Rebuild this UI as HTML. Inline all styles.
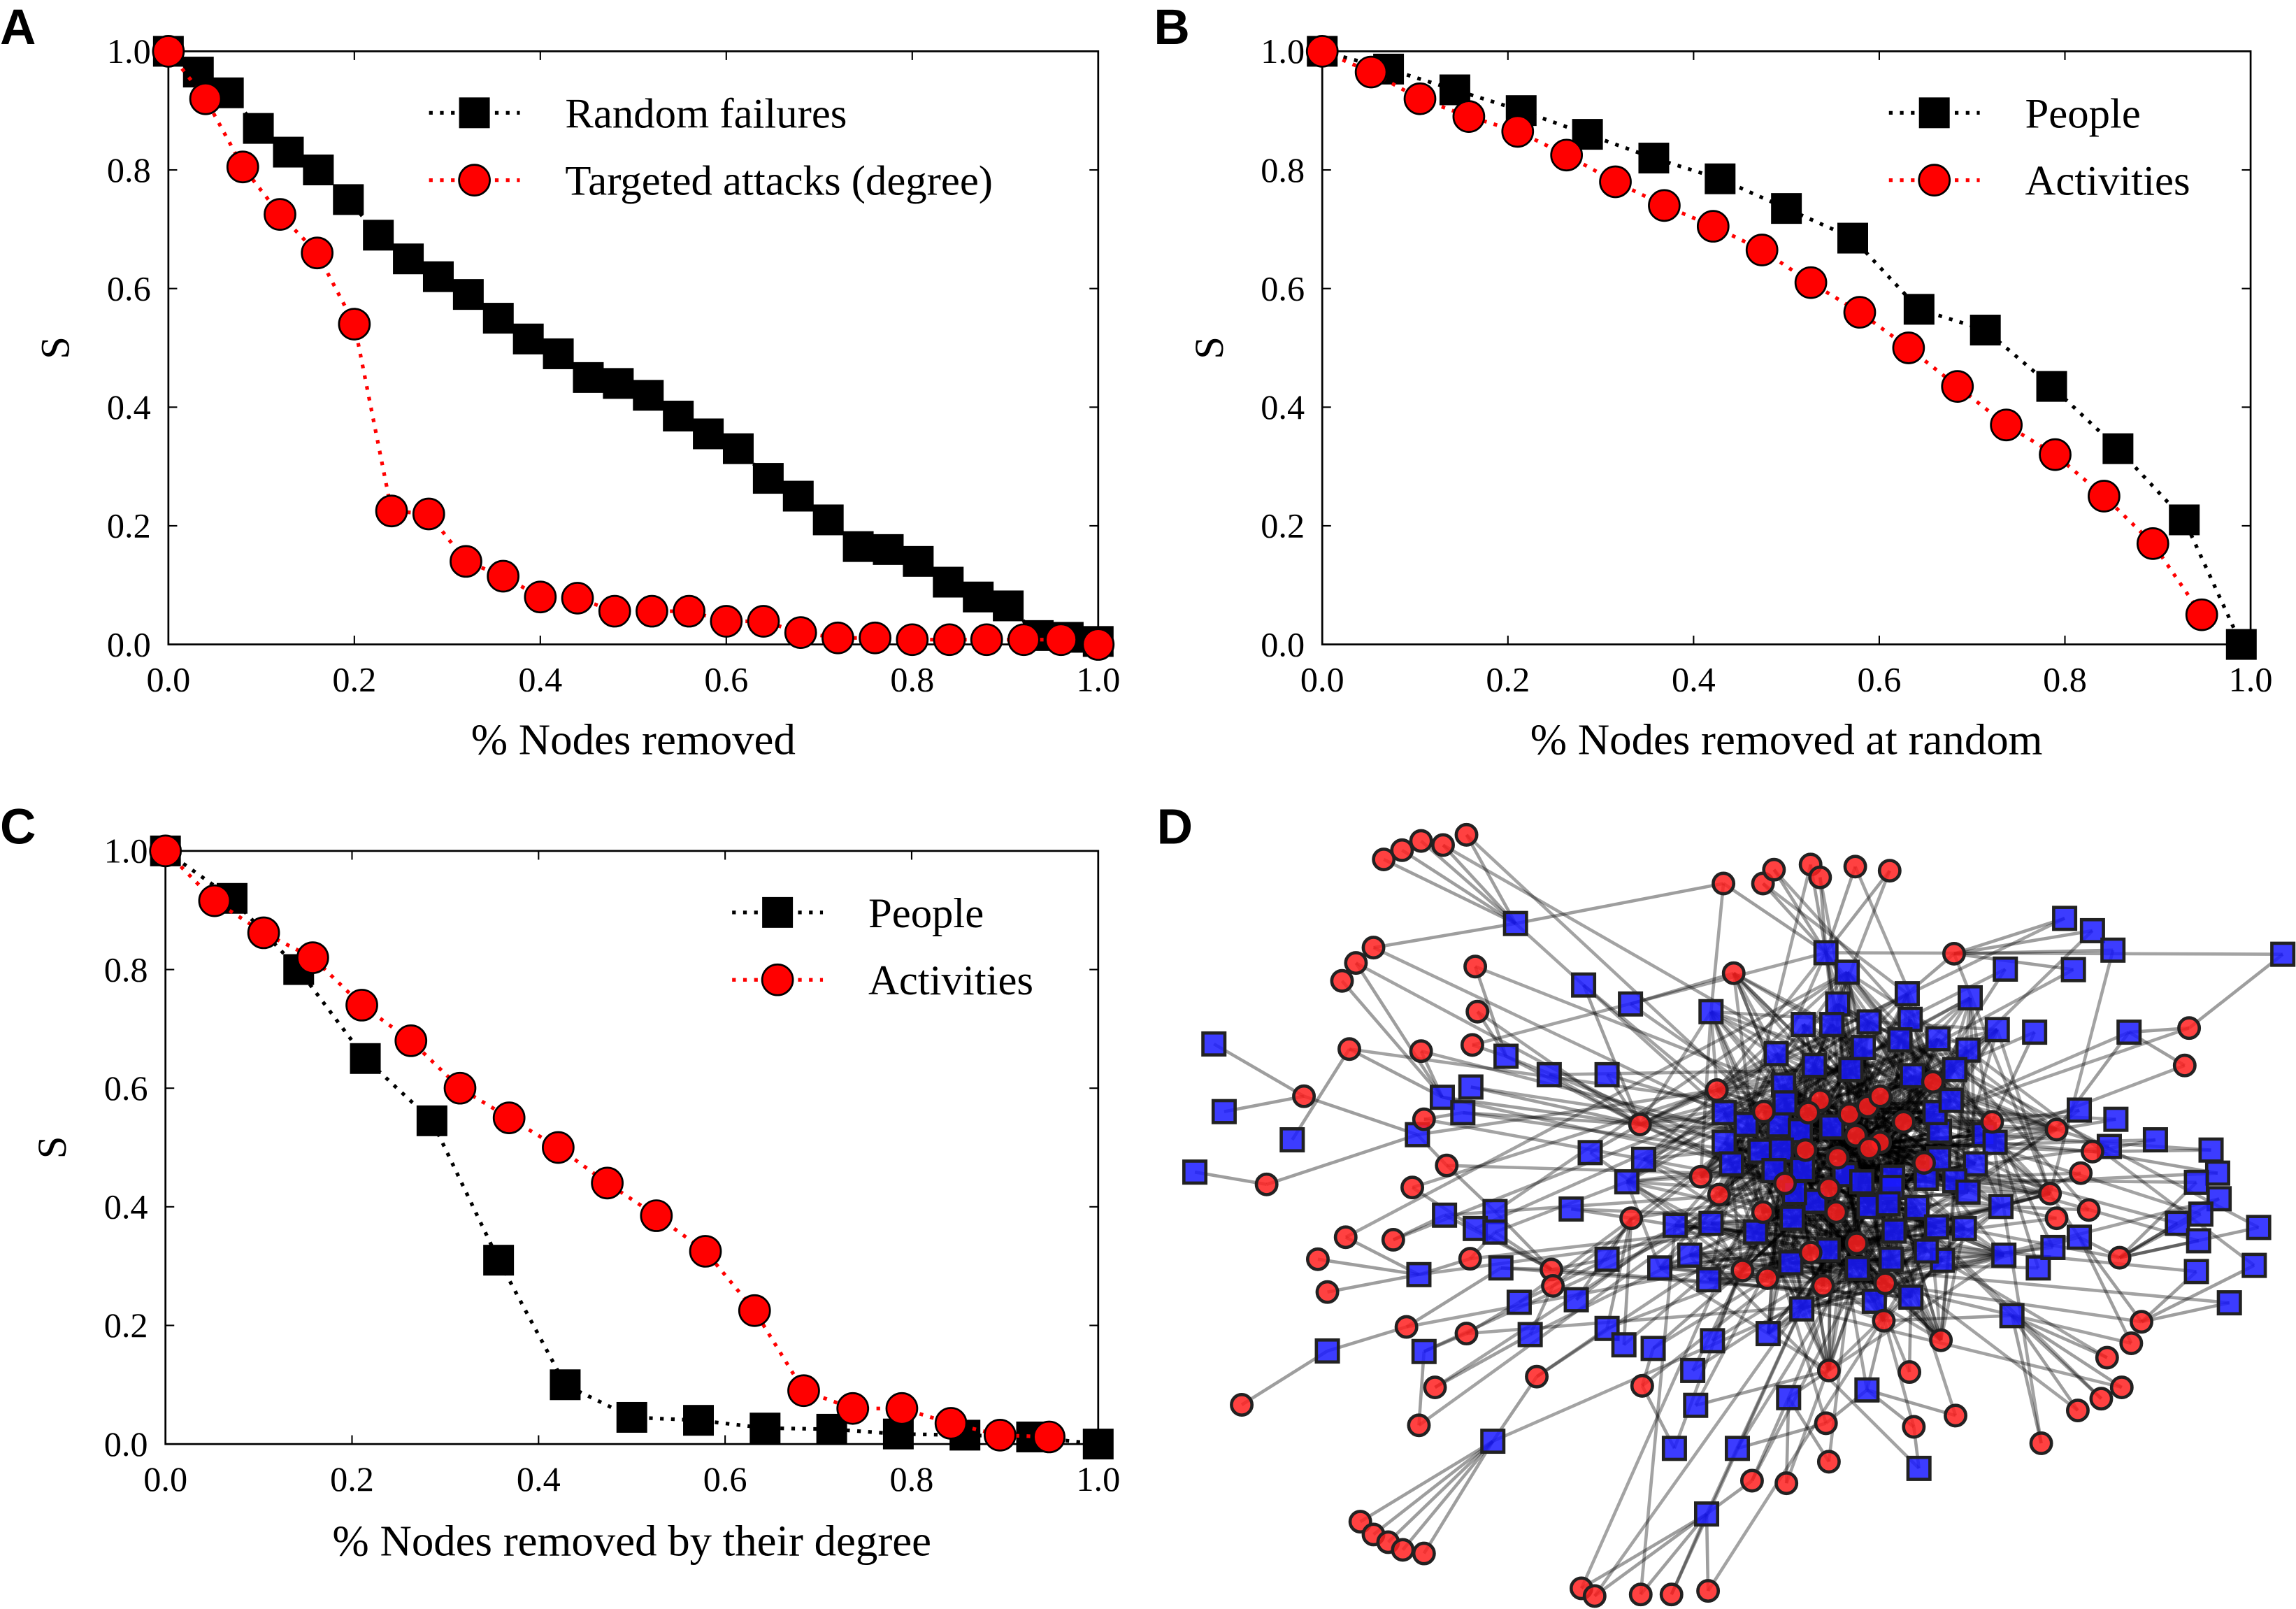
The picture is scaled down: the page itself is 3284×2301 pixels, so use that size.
<!DOCTYPE html>
<html><head><meta charset="utf-8"><style>
html,body{margin:0;padding:0;background:#fff;}
svg{display:block;}
svg text{font-family:"Liberation Serif","DejaVu Serif",serif;fill:#000;}
svg text.lbl{font-family:"Liberation Sans","DejaVu Sans",sans-serif;font-weight:bold;font-size:34px;}
</style></head><body>
<svg id="fig" width="3284" height="2301" viewBox="0 0 1568 1098.6" xmlns="http://www.w3.org/2000/svg">
<g id="pA"></g>
<g id="pB"></g>
<g id="pC"></g>
<g id="pD"></g>
</svg>
<script>
const NS="http://www.w3.org/2000/svg";
const SERIF='"Liberation Serif","DejaVu Serif",serif';
const ticks=[0,0.2,0.4,0.6,0.8,1.0];
const tickLabels=["0.0","0.2","0.4","0.6","0.8","1.0"];
// Panel A
const aRandX=[...Array(32).keys()].map(i=>i/31);
const aRandY=[1.0,0.965,0.93,0.87,0.83,0.80,0.75,0.69,0.65,0.62,0.59,0.55,0.515,0.49,0.45,0.44,0.42,0.385,0.355,0.33,0.28,0.25,0.21,0.165,0.16,0.14,0.105,0.08,0.065,0.015,0.012,0.005];
const aTargX=[...Array(26).keys()].map(i=>i*0.04);
const aTargY=[1.0,0.92,0.805,0.725,0.66,0.54,0.225,0.22,0.14,0.115,0.08,0.078,0.056,0.056,0.056,0.039,0.039,0.02,0.011,0.011,0.008,0.008,0.008,0.008,0.008,0.0];
// Panel B
const bPeopleX=[...Array(15).keys()].map(i=>Math.min(i/14,0.99));
const bPeopleY=[1.0,0.97,0.935,0.9,0.86,0.82,0.785,0.735,0.685,0.565,0.53,0.435,0.33,0.21,0.0];
const bActX=[...Array(19).keys()].map(i=>i/19);
const bActY=[1.0,0.965,0.92,0.89,0.865,0.825,0.78,0.74,0.705,0.665,0.61,0.56,0.5,0.435,0.37,0.32,0.25,0.17,0.05];
// Panel C
const cPeopleX=[...Array(15).keys()].map(i=>i/14);
const cPeopleY=[1.0,0.92,0.80,0.65,0.545,0.31,0.10,0.045,0.04,0.027,0.025,0.017,0.015,0.012,0.0];
const cActX=[...Array(19).keys()].map(i=>i/19);
const cActY=[1.0,0.916,0.862,0.82,0.74,0.68,0.60,0.55,0.50,0.44,0.385,0.325,0.225,0.09,0.06,0.06,0.035,0.015,0.012];

function mk(p,tag,at){const e=document.createElementNS(NS,tag);for(const k in at)e.setAttribute(k,at[k]);if(tag==='text'&&!at.class)e.setAttribute('font-family',SERIF);p.appendChild(e);return e;}

function panel(g,cfg){
  const sx=v=>cfg.x0+v*(cfg.x1-cfg.x0), sy=v=>cfg.y1-v*(cfg.y1-cfg.y0);
  const frame=mk(g,'rect',{x:cfg.x0,y:cfg.y0,width:cfg.x1-cfg.x0,height:cfg.y1-cfg.y0,fill:'none',stroke:'#000','stroke-width':1.3});
  
  ticks.forEach((t,i)=>{
    mk(g,'line',{x1:sx(t),x2:sx(t),y1:cfg.y1,y2:cfg.y1-6,stroke:'#000'});
    mk(g,'line',{x1:sx(t),x2:sx(t),y1:cfg.y0,y2:cfg.y0+6,stroke:'#000'});
    mk(g,'line',{x1:cfg.x0,x2:cfg.x0+6,y1:sy(t),y2:sy(t),stroke:'#000'});
    mk(g,'line',{x1:cfg.x1,x2:cfg.x1-6,y1:sy(t),y2:sy(t),stroke:'#000'});
    const xt=mk(g,'text',{x:sx(t),y:cfg.y1+32,'text-anchor':'middle','font-size':24});xt.textContent=tickLabels[i];
    
    const yt=mk(g,'text',{x:cfg.x0-12,y:sy(t)+8,'text-anchor':'end','font-size':24});yt.textContent=tickLabels[i];
    
  });
  const xl=mk(g,'text',{x:(cfg.x0+cfg.x1)/2,y:cfg.xlY,'text-anchor':'middle','font-size':30});xl.textContent=cfg.xlabel;
  
  const yl=mk(g,'text',{x:0,y:0,'text-anchor':'middle','font-size':28,transform:`translate(${cfg.x0-68},${(cfg.y0+cfg.y1)/2}) rotate(-90)`});yl.textContent='S';
  
  const pl=mk(g,'text',{x:cfg.lx,y:cfg.ly,class:'lbl','font-family':'"Liberation Sans","DejaVu Sans",sans-serif','font-weight':'bold','font-size':34});pl.textContent=cfg.letter;
  
  cfg.series.forEach(s=>{
    const sg=mk(g,'g',{});
    
    mk(sg,'polyline',{points:s.x.map((v,i)=>sx(v)+','+sy(s.y[i])).join(' '),fill:'none',stroke:s.lc,'stroke-width':2.5,'stroke-dasharray':'2.5 5'});
    s.x.forEach((v,i)=>marker(sg,s.m,sx(v),sy(s.y[i]),s.sz));
  });
  cfg.legend.forEach((L,i)=>{
    const lg=mk(g,'g',{});
    
    const y=cfg.legY+i*46;
    mk(lg,'line',{x1:cfg.legX,x2:cfg.legX+62,y1:y,y2:y,stroke:L.lc,'stroke-width':2.5,'stroke-dasharray':'2.5 5'});
    marker(lg,L.m,cfg.legX+31,y,L.sz);
    const t=mk(lg,'text',{x:cfg.legX+93,y:y+10,'font-size':29});t.textContent=L.t;
  });
}
function marker(p,m,x,y,sz){
  if(m==='s'){const r=mk(p,'rect',{x:x-sz/2,y:y-sz/2,width:sz,height:sz,fill:'#000'});}
  else{const c=mk(p,'circle',{cx:x,cy:y,r:sz/2,fill:'#f00',stroke:'#000','stroke-width':1.3});}
}
panel(document.getElementById('pA'),{x0:115,x1:750,y0:35,y1:440,xlabel:'% Nodes removed',xlY:515,letter:'A',lx:0,ly:30,legX:293,legY:77,
  series:[{name:'series-random-failures',x:aRandX,y:aRandY,m:'s',sz:21,lc:'#000'},{name:'series-targeted-attacks',x:aTargX,y:aTargY,m:'c',sz:21,lc:'#f00'}],
  legend:[{t:'Random failures',m:'s',sz:21,lc:'#000'},{t:'Targeted attacks (degree)',m:'c',sz:21,lc:'#f00'}]});
panel(document.getElementById('pB'),{x0:903,x1:1537,y0:35,y1:440,xlabel:'% Nodes removed at random',xlY:515,letter:'B',lx:788,ly:30,legX:1290,legY:77,
  series:[{name:'series-people',x:bPeopleX,y:bPeopleY,m:'s',sz:21,lc:'#000'},{name:'series-activities',x:bActX,y:bActY,m:'c',sz:21,lc:'#f00'}],
  legend:[{t:'People',m:'s',sz:21,lc:'#000'},{t:'Activities',m:'c',sz:21,lc:'#f00'}]});
panel(document.getElementById('pC'),{x0:113,x1:750,y0:581,y1:986,xlabel:'% Nodes removed by their degree',xlY:1062,letter:'C',lx:0,ly:576,legX:500,legY:623,
  series:[{name:'series-people',x:cPeopleX,y:cPeopleY,m:'s',sz:21,lc:'#000'},{name:'series-activities',x:cActX,y:cActY,m:'c',sz:21,lc:'#f00'}],
  legend:[{t:'People',m:'s',sz:21,lc:'#000'},{t:'Activities',m:'c',sz:21,lc:'#f00'}]});

// Panel D network
const redNodes=[[322,108],[347,90],[373,72],[403,80],[435,60],[786,155],[840,155],[855,128],[905,118],[918,143],[966,122],[1013,130],[308,280],[284,310],[265,345],[447,317],[450,405],[800,330],[1101,292],[275,478],[373,482],[443,470],[213,570],[377,615],[672,625],[777,558],[1072,542],[1153,620],[1241,635],[1422,437],[1416,510],[408,705],[361,748],[162,742],[755,727],[780,762],[660,808],[270,845],[335,850],[232,888],[245,952],[440,887],[551,908],[553,940],[812,910],[846,925],[905,875],[968,857],[922,940],[1007,935],[1005,1008],[1290,678],[1274,720],[1232,760],[1285,792],[1241,808],[1327,885],[353,1020],[435,1033],[392,1138],[370,1212],[128,1172],[531,1117],[675,1135],[930,1105],[1040,1108],[1083,1046],[1103,1193],[926,1208],[1046,1215],[1220,1247],[1357,1010],[1343,1052],[1310,1080],[1330,1138],[1302,1160],[1270,1183],[930,1283],[825,1320],[872,1325],[290,1400],[308,1425],[328,1440],[348,1455],[377,1462],[592,1530],[610,1545],[673,1542],[715,1542],[765,1535],[918,578],[958,605],[983,590],[1000,570],[902,602],[967,647],[1000,660],[985,672],[1032,620],[841,600],[898,675],[942,690],[930,750],[870,740],[840,796],[940,796],[1060,700]];
const blueNodes=[[502,233],[595,353],[659,390],[769,405],[926,290],[955,328],[942,390],[895,430],[934,430],[985,425],[1037,370],[1041,420],[1027,460],[1079,458],[1123,378],[1171,322],[1160,440],[1211,445],[1120,480],[1102,518],[1252,223],[1290,247],[1318,285],[1264,323],[1340,445],[1550,293],[90,468],[104,600],[197,655],[64,718],[489,492],[548,528],[627,528],[402,572],[441,552],[430,602],[368,645],[604,680],[677,693],[654,737],[405,802],[474,795],[447,828],[474,835],[578,790],[370,918],[482,905],[507,972],[585,967],[627,888],[522,1035],[627,1023],[650,1055],[690,1062],[245,1067],[377,1068],[699,905],[740,880],[720,822],[769,818],[766,928],[830,835],[880,808],[911,775],[878,895],[929,870],[969,906],[1015,888],[1019,833],[1050,787],[1077,825],[1085,890],[1063,872],[1115,828],[1165,785],[1169,880],[1216,905],[1236,865],[1272,845],[1180,998],[1042,962],[992,970],[893,985],[847,1033],[771,1047],[744,1105],[748,1173],[875,1158],[982,1143],[719,1257],[805,1257],[1053,1296],[763,1385],[471,1243],[1272,597],[1322,615],[1376,655],[1313,668],[1452,675],[1461,720],[1432,738],[1463,770],[1438,800],[1406,818],[1435,852],[1517,826],[1511,900],[1432,912],[1477,973],[858,487],[910,510],[960,518],[977,475],[1044,530],[868,548],[870,583],[787,602],[817,625],[862,626],[891,637],[934,630],[787,660],[836,677],[865,675],[797,702],[855,715],[894,713],[952,723],[975,737],[1017,728],[1016,748],[1063,730],[1080,692],[1081,638],[1075,602],[1097,578],[1142,645],[1157,660],[1130,702],[1102,735],[1120,757],[985,785],[1011,780],[883,758]];
(function(){
  const g=document.getElementById('pD');
  const tx=v=>v*0.5+784, ty=v=>v*0.35+549;
  const lt=mk(g,'text',{x:790,y:576,class:'lbl','font-family':'"Liberation Sans","DejaVu Sans",sans-serif','font-weight':'bold','font-size':34});lt.textContent='D';
  
  const all=redNodes.map(p=>({p,t:'r'})).concat(blueNodes.map(p=>({p,t:'b'})));
  const C=[950,690];
  const d=(a,b)=>Math.hypot((a[0]-b[0])*0.5,(a[1]-b[1])*0.35);
  const hubs=all.filter(n=>d(n.p,C)<150);
  const eg=mk(g,'g',{});
  
  const edge=(a,b,op)=>mk(eg,'line',{x1:tx(a[0]),y1:ty(a[1]),x2:tx(b[0]),y2:ty(b[1]),stroke:'#000','stroke-opacity':op,'stroke-width':2.2});
  all.forEach((n,i)=>{
    const dc=d(n.p,C);
    if(dc>=150){
      let best=null,bd=1e9;
      all.forEach(m=>{if(m.t!==n.t&&d(m.p,C)<dc-20){const q=d(m.p,n.p);if(q<bd){bd=q;best=m;}}});
      if(best)edge(n.p,best.p,0.38);
      if(dc<360) edge(n.p,hubs[(i*7)%hubs.length].p,0.36);
    }else{
      [3,7,11,17,23].forEach(k=>edge(n.p,hubs[(i+k)%hubs.length].p,0.35));
    }
  });
  const ng=mk(g,'g',{});
  
  blueNodes.forEach(p=>{
    const r=mk(ng,'rect',{x:tx(p[0])-7.5,y:ty(p[1])-7.5,width:15,height:15,fill:'#1a1aff','fill-opacity':0.85,stroke:'#222','stroke-width':2.2});
    
  });
  redNodes.forEach(p=>{
    const c=mk(ng,'circle',{cx:tx(p[0]),cy:ty(p[1]),r:7,fill:'#ff2020','fill-opacity':0.85,stroke:'#222','stroke-width':2.2});
    
  });
})();
</script>
</body></html>
